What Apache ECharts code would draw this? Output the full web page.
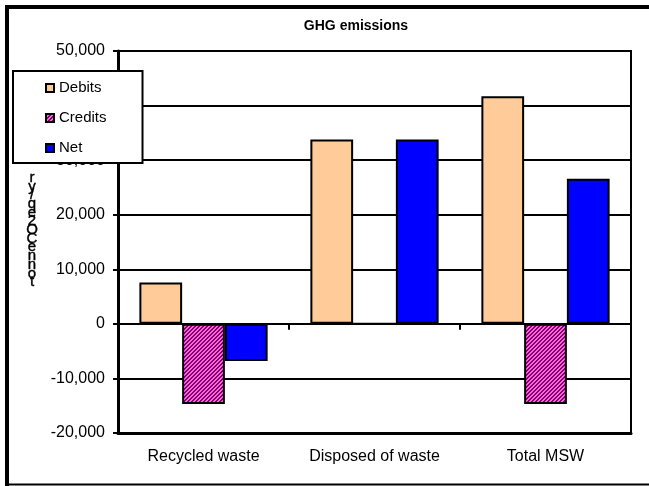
<!DOCTYPE html>
<html>
<head>
<meta charset="utf-8">
<style>html,body{margin:0;padding:0;background:#fff}#c{width:649px;height:486px}</style>
<script src="https://cdn.jsdelivr.net/npm/echarts@6/dist/echarts.min.js"></script>
</head>
<body>
<div id="c"></div>
<script>
const categories = ['Recycled waste', 'Disposed of waste', 'Total MSW'];
const debits = [7600, 33800, 41700];
const credits = [-14700, 0, -14700];
const net = [-6800, 33800, 26600];
const seriesNames = ['Debits', 'Credits', 'Net'];
const titleText = 'GHG emissions';
const yNameChars = ['r','y','/','q','e','2','O','C','e','n','n','o','t'];

const FONT = '"Liberation Sans", Arial, sans-serif';

// diagonal stripe pattern for credits
const pc = document.createElement('canvas');
pc.width = 8; pc.height = 8;
const pctx = pc.getContext('2d');
for (let x = 0; x < 8; x++) {
  for (let y = 0; y < 8; y++) {
    pctx.fillStyle = ((x + y) % 4) < 2 ? '#800080' : '#ff66cc';
    pctx.fillRect(x, y, 1, 1);
  }
}
const stripe = { image: pc, repeat: 'repeat' };

const chart = echarts.init(document.getElementById('c'), null, { renderer: 'canvas' });
const barBorder = { borderColor: '#000', borderWidth: 2 };

chart.setOption({
  backgroundColor: '#fff',
  animation: false,
  title: {
    text: titleText,
    left: 356, top: 19, padding: 0,
    textAlign: 'center',
    textStyle: { fontFamily: FONT, fontSize: 14, fontWeight: 'bold', color: '#000' }
  },
  legend: {
    orient: 'vertical',
    left: 13, top: 71,
    data: seriesNames,
    selectedMode: false,
    backgroundColor: '#fff',
    borderColor: '#000',
    borderWidth: 2,
    borderRadius: 0,
    padding: [8, 36, 6, 32],
    itemGap: 12,
    itemWidth: 8, itemHeight: 8,
    icon: 'rect',
    itemStyle: { borderColor: '#000', borderWidth: 2 },
    textStyle: { fontFamily: FONT, fontSize: 15, color: '#000', lineHeight: 18, padding: [0, 0, 0, 0] },
    z: 10
  },
  grid: {
    left: 118, right: 18, top: 51, bottom: 53,
    show: true, borderColor: '#000', borderWidth: 2, backgroundColor: '#fff'
  },
  xAxis: [
    {
      type: 'category',
      data: categories,
      position: 'bottom',
      axisLine: { onZero: false, lineStyle: { color: '#000', width: 3 } },
      axisTick: { show: false },
      axisLabel: { color: '#000', fontFamily: FONT, fontSize: 16, margin: 16 },
      splitLine: { show: false }
    },
    {
      type: 'category',
      data: categories,
      position: 'bottom',
      axisLine: { onZero: true, lineStyle: { color: '#000', width: 2 } },
      axisTick: { show: true, length: 6, lineStyle: { color: '#000', width: 2 } },
      axisLabel: { show: false },
      splitLine: { show: false }
    }
  ],
  yAxis: {
    type: 'value',
    min: -20000, max: 50000, interval: 10000,
    axisLine: { show: true, lineStyle: { color: '#000', width: 3 } },
    axisTick: { show: true, length: 5, lineStyle: { color: '#000', width: 2 } },
    axisLabel: {
      color: '#000', fontFamily: FONT, fontSize: 16, margin: 13,
      formatter: v => v.toLocaleString('en-US')
    },
    splitLine: { show: true, lineStyle: { color: '#000', width: 2 } }
  },
  series: [
    { name: seriesNames[0], type: 'bar', data: debits, barGap: '0%', barCategoryGap: '25%',
      itemStyle: Object.assign({ color: '#ffcc99' }, barBorder) },
    { name: seriesNames[1], type: 'bar', data: credits, barGap: '0%', barCategoryGap: '25%',
      itemStyle: Object.assign({ color: stripe }, barBorder) },
    { name: seriesNames[2], type: 'bar', data: net, barGap: '0%', barCategoryGap: '25%',
      itemStyle: Object.assign({ color: '#0000ff' }, barBorder) }
  ],
  graphic: [
    { type: 'line', shape: { x1: 5, y1: 7, x2: 660, y2: 7 }, style: { stroke: '#000', lineWidth: 4 }, z: 100 },
    { type: 'line', shape: { x1: 7, y1: 5, x2: 7, y2: 486 }, style: { stroke: '#000', lineWidth: 4 }, z: 100 },
    { type: 'line', shape: { x1: 5, y1: 484.5, x2: 660, y2: 484.5 }, style: { stroke: '#000', lineWidth: 2 }, z: 100 },
    {
      type: 'text', left: 26, top: 170, z: 100,
      style: {
        text: yNameChars.join('\n'),
        fill: '#000',
        stroke: '#000',
        lineWidth: 0.4,
        font: '15px ' + FONT,
        lineHeight: 8.7,
        textAlign: 'center'
      }
    }
  ]
});
</script>
</body>
</html>
